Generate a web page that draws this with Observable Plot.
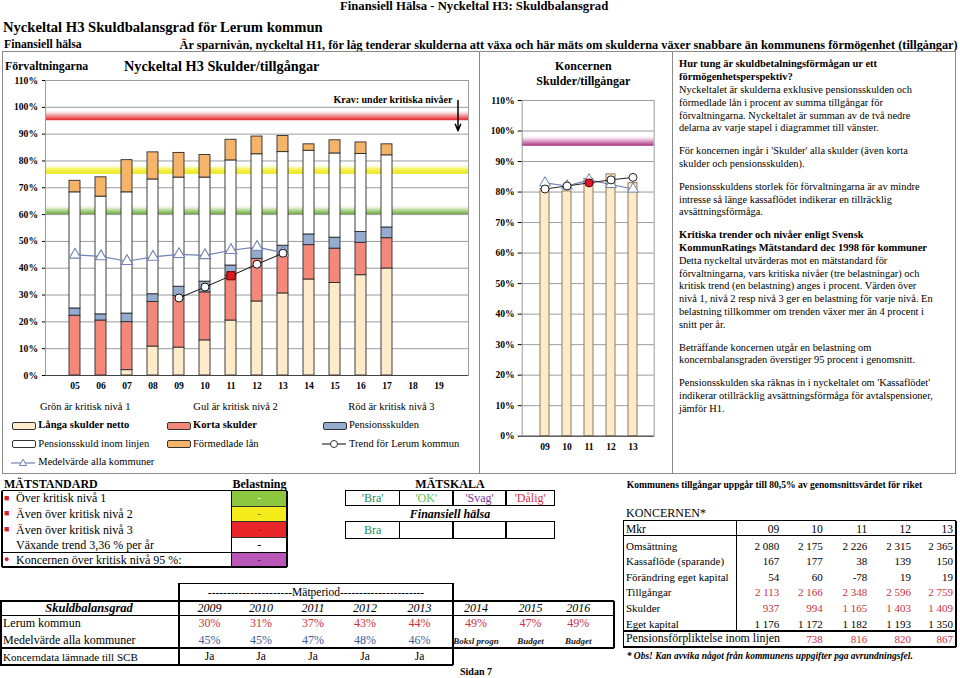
<!DOCTYPE html>
<html lang="sv"><head><meta charset="utf-8">
<script src="https://cdn.jsdelivr.net/npm/d3@7"></script>
<script src="https://cdn.jsdelivr.net/npm/@observablehq/plot@0.6"></script>
<style>
html,body{margin:0;padding:0;background:#fff;}
#page{position:relative;width:960px;height:678px;overflow:hidden;font-family:"Liberation Serif","Times New Roman",serif;color:#000;}
.t{position:absolute;white-space:nowrap;}
.ln{position:absolute;}
.chart{position:absolute;}
.chart svg{overflow:visible;}
</style></head><body><div id="page"></div>
<script>
// ---------------- DATA ----------------
const yearLabels = ["05","06","07","08","09","10","11","12","13","14","15","16","17","18","19"];
const barYears = ["05","06","07","08","09","10","11","12","13","14","15","16","17"];
const langaSkulderNetto = [0, 0, 2.0, 10.8, 10.4, 13.1, 20.5, 27.6, 30.6, 35.8, 34.5, 37.4, 39.9];
const kortaSkulder = [22.3, 20.5, 17.9, 16.6, 19.2, 17.9, 16.7, 15.9, 14.1, 12.8, 12.8, 12.1, 11.3];
const pensionsskulden = [2.7, 2.3, 3.2, 2.9, 3.5, 4.0, 3.8, 3.6, 3.7, 4.0, 4.1, 4.0, 4.0];
const pensionsskuldInomLinjen = [43.3, 43.9, 45.2, 42.8, 40.7, 38.8, 39.2, 35.4, 34.9, 31.2, 31.4, 29.1, 26.9];
const formedladeLan = [4.3, 7.2, 12.0, 10.1, 9.2, 8.4, 7.7, 6.6, 6.0, 2.4, 4.9, 4.3, 4.1];
const seriesNames = ["Långa skulder netto", "Korta skulder", "Pensionsskulden", "Pensionsskuld inom linjen", "Förmedlade lån"];
const seriesColors = ["#fdebc9", "#f4897b", "#95acd0", "#ffffff", "#f6b46a"];

const medelvardeYears = ["05","06","07","08","09","10","11","12","13"];
const medelvardeAllaKommuner = [45.0, 44.4, 42.6, 44.2, 45.2, 44.8, 46.7, 47.9, 45.8];
const trendYears = ["09","10","11","12","13"];
const trendLerum = [28.9, 33.0, 37.2, 41.5, 45.6];
const trendMarkYear = "11";
const kritiskaNivaer = [60, 75, 95];
const yTicks = [0,10,20,30,40,50,60,70,80,90,100,110];
const krav = [{label: "Krav: under kritiska nivåer", from: 102.5, to: 91.3}];

const koncernYears = ["09","10","11","12","13"];
const koncernSkuldTillg = [81.0, 80.2, 84.3, 85.8, 82.9];
const koncernTrend = [81.0, 82.0, 83.0, 84.0, 84.8];
const koncernMedel = [83.0, 82.0, 84.0, 82.5, 81.0];
const koncernKritisk = [95];

const tableYears = ["2009","2010","2011","2012","2013","2014","2015","2016"];
const lerumPct = [30, 31, 37, 43, 44, 49, 47, 49];
const medelPct = [45, 45, 47, 48, 46];
const prognosLabels = ["Boksl progn", "Budget", "Budget"];
const koncerndataSCB = ["Ja","Ja","Ja","Ja","Ja"];

const konYears = ["09","10","11","12","13"];
const omsattning = [2080, 2175, 2226, 2315, 2365];
const kassaflode = [167, 177, 38, 139, 150];
const forandringEK = [54, 60, -78, 19, 19];
const tillgangar = [2113, 2166, 2348, 2596, 2759];
const skulder = [937, 994, 1165, 1403, 1409];
const egetKapital = [1176, 1172, 1182, 1193, 1350];
const pensionInomLinjenKon = [null, 738, 816, 820, 867];

// ---------------- HELPERS ----------------
const page = document.getElementById("page");
function txt(x, y, s, o = {}) {
  const fs = o.fs || 10.5;
  const d = document.createElement("div");
  d.className = "t";
  d.style.fontSize = fs + "px";
  d.style.lineHeight = fs + "px";
  d.style.top = (y - fs / 2) + "px";
  if (o.anchor === "middle") { d.style.left = x + "px"; d.style.transform = "translateX(-50%)"; }
  else if (o.anchor === "end") { d.style.right = (960 - x) + "px"; }
  else d.style.left = x + "px";
  if (o.bold) d.style.fontWeight = "bold";
  if (o.italic) d.style.fontStyle = "italic";
  if (o.color) d.style.color = o.color;
  d.textContent = s;
  page.appendChild(d);
  return d;
}
function hline(x1, x2, y, w = 1, c = "#000") {
  const d = document.createElement("div"); d.className = "ln";
  Object.assign(d.style, {left: x1 + "px", top: (y - w / 2) + "px", width: (x2 - x1) + "px", height: w + "px", background: c});
  page.appendChild(d);
}
function vline(x, y1, y2, w = 1, c = "#000") {
  const d = document.createElement("div"); d.className = "ln";
  Object.assign(d.style, {left: (x - w / 2) + "px", top: y1 + "px", width: w + "px", height: (y2 - y1) + "px", background: c});
  page.appendChild(d);
}
function fillRect(x1, y1, x2, y2, c) {
  const d = document.createElement("div"); d.className = "ln";
  Object.assign(d.style, {left: x1 + "px", top: y1 + "px", width: (x2 - x1) + "px", height: (y2 - y1) + "px", background: c});
  page.appendChild(d);
}
function addGradient(svg, id, stops) {
  let defs = d3.select(svg).select("defs.grad");
  if (defs.empty()) defs = d3.select(svg).insert("defs", ":first-child").attr("class", "grad");
  const g = defs.append("linearGradient").attr("id", id).attr("x1", 0).attr("y1", 0).attr("x2", 0).attr("y2", 1);
  stops.forEach(([o, c, a]) => g.append("stop").attr("offset", o).attr("stop-color", c).attr("stop-opacity", a));
}
function place(el, left, top) {
  const w = document.createElement("div"); w.className = "chart";
  w.style.left = left + "px"; w.style.top = top + "px";
  w.appendChild(el); page.appendChild(w);
}
const fmtNum = n => (n < 0 ? "-" : "") + String(Math.abs(n)).replace(/\B(?=(\d{3})+(?!\d))/g, " ");

// ---------------- HEADINGS ----------------
txt(340, 6.5, "Finansiell Hälsa - Nyckeltal H3: Skuldbalansgrad", {fs: 12.7, bold: true});
txt(3, 27.5, "Nyckeltal H3 Skuldbalansgrad för Lerum kommun", {fs: 14.6, bold: true});
txt(4, 45, "Finansiell hälsa", {fs: 11.7, bold: true});
txt(179.5, 45, "Är sparnivån, nyckeltal H1, för låg tenderar skulderna att växa och här mäts om skulderna växer snabbare än kommunens förmögenhet (tillgångar)", {fs: 12.3, bold: true});

// outer box + dividers
const boxC = "#8a8a8a";
hline(2, 955.5, 51.7, 1, boxC); hline(2, 955.5, 473.3, 1, boxC);
vline(2, 51.7, 473.3, 1, boxC); vline(955.5, 51.7, 473.8, 1, boxC);
vline(479.3, 51.7, 473.3, 1, boxC); vline(672.3, 51.7, 473.3, 1, boxC);

txt(5, 66.5, "Förvaltningarna", {fs: 11.8, bold: true});
txt(124, 66.5, "Nyckeltal H3 Skulder/tillgångar", {fs: 14.3, bold: true});
txt(583.3, 65.7, "Koncernen", {fs: 12, bold: true, anchor: "middle"});
txt(583.3, 80.7, "Skulder/tillgångar", {fs: 12, bold: true, anchor: "middle"});

// ---------------- MAIN CHART ----------------
const barRows = [];
barYears.forEach((yr, i) => {
  [langaSkulderNetto, kortaSkulder, pensionsskulden, pensionsskuldInomLinjen, formedladeLan].forEach((arr, k) => {
    barRows.push({year: yr, part: seriesNames[k], value: arr[i]});
  });
});
const medelRows = medelvardeYears.map((y, i) => ({year: y, value: medelvardeAllaKommuner[i]}));
const trendRows = trendYears.map((y, i) => ({year: y, value: trendLerum[i]}));
const gridC = "#9c9c9c";
const chartStyle = {fontFamily: "'Liberation Serif', serif", fontSize: "9.6px", fontWeight: "bold", color: "#000", background: "transparent", overflow: "visible"};
const mvColor = "#6f82b3";

const mainChart = Plot.plot({
  width: 478, height: 345,
  marginLeft: 45, marginRight: 10, marginTop: 28, marginBottom: 22,
  style: chartStyle,
  x: {type: "band", domain: yearLabels, paddingInner: 0.58, paddingOuter: 0.29, insetLeft: 14, insetRight: 14, label: null},
  y: {domain: [0, 110], label: null},
  color: {domain: seriesNames, range: seriesColors},
  marks: [
    ...kritiskaNivaer.map((v, i) => Plot.rect([v], {y1: d => d, y2: d => d + (i === 2 ? 4 : 3.6), fill: `url(#gMain${i})`})),
    Plot.gridY(yTicks, {stroke: gridC, strokeOpacity: 1}),
    Plot.frame({stroke: gridC}),
    Plot.barY(barRows, {x: "year", y: "value", fill: "part", stroke: "#2b2b2b", strokeWidth: 0.9}),
    Plot.line(medelRows, {x: "year", y: "value", stroke: mvColor, strokeWidth: 1.2}),
    Plot.dot(medelRows, {x: "year", y: "value", symbol: "triangle", r: 4.2, fill: "white", stroke: mvColor, strokeWidth: 1.1}),
    Plot.line(trendRows, {x: "year", y: "value", stroke: "#111", strokeWidth: 1}),
    Plot.dot(trendRows.filter(d => d.year !== trendMarkYear), {x: "year", y: "value", r: 4, fill: "white", stroke: "#111", strokeWidth: 1}),
    Plot.dot(trendRows.filter(d => d.year === trendMarkYear), {x: "year", y: "value", symbol: "square", r: 4.6, fill: "#e01b1b", stroke: "#6b0000", strokeWidth: 1}),
    Plot.ruleY([0], {stroke: "#444"}),
    Plot.axisY(yTicks, {tickFormat: d => d + "%", tickSize: 3, tickPadding: 4.5, label: null}),
    Plot.axisX({tickSize: 0, tickPadding: 7, label: null}),
    Plot.arrow(krav, {x1: d => "19", x2: d => "19", y1: "from", y2: "to", dx: 19, stroke: "#000", strokeWidth: 1.5, headLength: 7, headAngle: 45}),
    Plot.text(krav, {text: "label", frameAnchor: "top-right", textAnchor: "end", dx: -16, dy: 15, fontSize: 10, fontWeight: "bold"})
  ]
});
addGradient(mainChart, "gMain0", [[0, "#ffffff", 0], [0.4, "#d8ecc4", 1], [1, "#6cab3b", 1]]);
addGradient(mainChart, "gMain1", [[0, "#ffffff", 0], [0.45, "#f7f46a", 1], [1, "#ebe617", 1]]);
addGradient(mainChart, "gMain2", [[0, "#ffffff", 0], [0.4, "#f8c2c2", 1], [1, "#e22228", 1]]);
place(mainChart, 0, 52);

// ---------------- LEGEND ----------------
txt(40, 407.7, "Grön är kritisk nivå 1", {fs: 10.5});
txt(193.3, 407.7, "Gul är kritisk nivå 2", {fs: 10.5});
txt(348.3, 407.7, "Röd är kritisk nivå 3", {fs: 10.5});
function swatch(x, y, fill) {
  const d = document.createElement("div"); d.className = "ln";
  Object.assign(d.style, {left: x + "px", top: (y - 4) + "px", width: "22px", height: "6px", background: fill, border: "1px solid #333", borderRadius: "2px"});
  page.appendChild(d);
}
function lineIcon(x, y, color, sym) {
  const ns = "http://www.w3.org/2000/svg";
  const s = document.createElementNS(ns, "svg");
  s.setAttribute("width", 26); s.setAttribute("height", 12);
  s.style.position = "absolute"; s.style.left = x + "px"; s.style.top = (y - 6) + "px";
  s.innerHTML = `<line x1="0" y1="6" x2="24" y2="6" stroke="${color}" stroke-width="1.2"/>` +
    (sym === "circle" ? `<circle cx="12" cy="6" r="3.5" fill="white" stroke="${color}"/>` :
      `<path d="M12,2.2 L15.6,8.6 L8.4,8.6 Z" fill="white" stroke="${color}"/>`);
  page.appendChild(s);
}
swatch(11.7, 425.7, seriesColors[0]); txt(38.3, 425.7, seriesNames[0], {fs: 10.6, bold: true});
swatch(166.7, 425.7, seriesColors[1]); txt(193, 425.7, seriesNames[1], {fs: 10.6, bold: true});
swatch(322.7, 425.7, seriesColors[2]); txt(349, 425.7, seriesNames[2], {fs: 10.5});
swatch(11.7, 444, seriesColors[3]); txt(38.3, 444, seriesNames[3], {fs: 10.5});
swatch(166.7, 444, seriesColors[4]); txt(193, 444, seriesNames[4], {fs: 10.5});
lineIcon(322, 444, "#333", "circle"); txt(349, 444, "Trend för Lerum kommun", {fs: 10.5});
lineIcon(11, 462.7, mvColor, "triangle"); txt(38.3, 462.7, "Medelvärde alla kommuner", {fs: 10.5});

// ---------------- KONCERNEN CHART ----------------
const kRows = koncernYears.map((y, i) => ({year: y, value: koncernSkuldTillg[i]}));
const kMedelRows = koncernYears.map((y, i) => ({year: y, value: koncernMedel[i]}));
const kTrendRows = koncernYears.map((y, i) => ({year: y, value: koncernTrend[i]}));
const kChart = Plot.plot({
  width: 192, height: 406,
  marginLeft: 41.7, marginRight: 18.3, marginTop: 48, marginBottom: 22.3,
  style: chartStyle,
  x: {type: "band", domain: koncernYears, paddingInner: 0.6, paddingOuter: 0.3, insetLeft: 11.5, insetRight: 9.5, label: null},
  y: {domain: [0, 110], label: null},
  marks: [
    Plot.rect(koncernKritisk, {y1: d => d, y2: d => d + 3.6, fill: "url(#gKon)"}),
    Plot.gridY(yTicks, {stroke: gridC, strokeOpacity: 1}),
    Plot.frame({stroke: gridC}),
    Plot.barY(kRows, {x: "year", y: "value", fill: seriesColors[0], stroke: "#8b7b5c", strokeWidth: 1}),
    Plot.line(kMedelRows, {x: "year", y: "value", stroke: mvColor, strokeWidth: 1.1}),
    Plot.dot(kMedelRows, {x: "year", y: "value", symbol: "triangle", r: 4, fill: "white", stroke: mvColor, strokeWidth: 1}),
    Plot.line(kTrendRows, {x: "year", y: "value", stroke: "#222", strokeWidth: 1}),
    Plot.dot(kTrendRows.filter(d => d.year !== trendMarkYear), {x: "year", y: "value", r: 4, fill: "white", stroke: "#222", strokeWidth: 1}),
    Plot.dot(kTrendRows.filter(d => d.year === trendMarkYear), {x: "year", y: "value", r: 4, fill: "#e0162b", stroke: "#6b0000", strokeWidth: 1}),
    Plot.ruleY([0], {stroke: "#444"}),
    Plot.axisY(yTicks, {tickFormat: d => d + "%", tickSize: 4, tickPadding: 3.5, label: null}),
    Plot.axisX({tickSize: 0, tickPadding: 7, label: null})
  ]
});
addGradient(kChart, "gKon", [[0, "#ffffff", 0], [0.45, "#e9bcd8", 1], [1, "#a4307c", 1]]);
place(kChart, 480, 52);

// ---------------- RIGHT TEXT ----------------
const paras = [
  {bold: ["Hur tung är skuldbetalningsförmågan ur ett", "förmögenhetsperspektiv?"],
   reg: ["Nyckeltalet är skulderna exklusive pensionsskulden och", "förmedlade lån i procent av summa tillgångar för", "förvaltningarna. Nyckeltalet är summan av de två nedre", "delarna av varje stapel i diagrammet till vänster."]},
  {bold: [], reg: ["För koncernen ingår i 'Skulder' alla skulder (även korta", "skulder och pensionsskulden)."]},
  {bold: [], reg: ["Pensionsskuldens storlek för förvaltningarna är av mindre", "intresse så länge kassaflödet indikerar en tillräcklig", "avsättningsförmåga."]},
  {bold: ["Kritiska trender och nivåer enligt Svensk", "KommunRatings Mätstandard dec 1998 för kommuner"],
   reg: ["Detta nyckeltal utvärderas mot en mätstandard för", "förvaltningarna, vars kritiska nivåer (tre belastningar) och", "kritisk trend (en belastning) anges i procent. Värden över", "nivå 1, nivå 2 resp nivå 3 ger en belastning för varje nivå. En", "belastning tillkommer om trenden växer mer än 4 procent i", "snitt per år."]},
  {bold: [], reg: ["Beträffande koncernen utgår en belastning om", "koncernbalansgraden överstiger 95 procent i genomsnitt."]},
  {bold: [], reg: ["Pensionsskulden ska räknas in i nyckeltalet om 'Kassaflödet'", "indikerar otillräcklig avsättningsförmåga för avtalspensioner,", "jämför H1."]}
];
let ty = 64.5;
paras.forEach((p, pi) => {
  if (pi > 0) ty += 10;
  p.bold.forEach(l => { txt(679, ty, l, {fs: 10.5, bold: true}); ty += 12.8; });
  p.reg.forEach(l => { txt(679, ty, l, {fs: 10.4}); ty += 12.8; });
});

// ---------------- MÄTSTANDARD ----------------
txt(4, 483.5, "MÄTSTANDARD", {fs: 12, bold: true});
txt(259.5, 483.5, "Belastning", {fs: 12, bold: true, anchor: "middle"});
const mRows = [["Över kritisk nivå 1", "sq"], ["Även över kritisk nivå 2", "sq"], ["Även över kritisk nivå 3", "sq"], ["Växande trend 3,36 % per år", ""], ["Koncernen över kritisk nivå 95 %:", "dot"]];
const mFill = ["#8dc63f", "#f5ec1b", "#e9272a", "#ffffff", "#b957b9"];
const mDash = ["#eef6e0", "#8a8a30", "#c01010", "#000", "#6a1a6a"];
const mY = [490.7, 506, 521.7, 537.7, 552.7, 567];
mRows.forEach((r, i) => {
  const yc = (mY[i] + mY[i + 1]) / 2;
  fillRect(231.7, mY[i], 287, mY[i + 1], mFill[i]);
  txt(259.3, yc, "-", {fs: 12, anchor: "middle", color: mDash[i]});
  if (r[1] === "sq") txt(4, yc, "■", {fs: 9, color: "#d21f33"});
  if (r[1] === "dot") txt(4, yc, "●", {fs: 9, color: "#d21f33"});
  txt(16, yc, r[0], {fs: 12});
  if (i > 0 && i < 4) hline(231.7, 287, mY[i], 0.8, "#333");
});
hline(2, 287, mY[0], 1.5); hline(2, 287, mY[4], 1.5); hline(2, 287, mY[5], 1.5);
vline(2, mY[0], mY[5], 1.5); vline(231.7, mY[0], mY[5], 1.2); vline(287, mY[0], mY[5], 1.5);

// MÄTSKALA
txt(450, 483.5, "MÄTSKALA", {fs: 12, bold: true, anchor: "middle"});
const skalaLabels = ["'Bra'", "'OK'", "'Svag'", "'Dålig'"];
const skalaColors = ["#1f8a5a", "#5cbf5c", "#7a3a9a", "#df3048"];
const skalaX = [345.8, 399.4, 453.1, 506, 554.4];
[[490.7, 505.3], [521.7, 538.3]].forEach(([a, b]) => {
  hline(skalaX[0], skalaX[4], a, 1.3); hline(skalaX[0], skalaX[4], b, 1.3);
  skalaX.forEach(x => vline(x, a - 0.6, b + 0.6, 1.3));
});
skalaLabels.forEach((s, i) => txt((skalaX[i] + skalaX[i + 1]) / 2, 498, s, {fs: 12, anchor: "middle", color: skalaColors[i]}));
txt(450, 514, "Finansiell hälsa", {fs: 12, bold: true, italic: true, anchor: "middle"});
txt((skalaX[0] + skalaX[1]) / 2, 530, "Bra", {fs: 12, anchor: "middle", color: skalaColors[0]});

// ---------------- SKULDBALANSGRAD TABLE ----------------
const colC = [209.5, 261, 313, 365, 419.5, 476, 530.6, 578.3];
hline(179, 453, 583.3, 1.5); vline(179, 583.3, 665, 1.5); vline(453, 583.3, 665, 1.5);
txt(316, 592.5, "----------------------Mätperiod----------------------", {fs: 11.5, anchor: "middle"});
hline(0, 614, 600.7, 2); hline(0, 614, 615.2, 1); hline(0, 614, 648.3, 2); hline(0, 453, 665, 1.5);
vline(1, 600.7, 665, 1.5); vline(614, 600.7, 648.3, 2);
txt(89, 607.8, "Skuldbalansgrad", {fs: 12.5, bold: true, italic: true, anchor: "middle"});
tableYears.forEach((y, i) => txt(colC[i], 607.8, y, {fs: 12, italic: true, anchor: "middle"}));
txt(3, 623.3, "Lerum kommun", {fs: 12});
lerumPct.forEach((v, i) => txt(colC[i], 623.3, v + "%", {fs: 12, anchor: "middle", color: "#d0303e"}));
txt(3, 640, "Medelvärde alla kommuner", {fs: 12});
medelPct.forEach((v, i) => txt(colC[i], 640, v + "%", {fs: 12, anchor: "middle", color: "#3f5d99"}));
prognosLabels.forEach((s, i) => txt(colC[5 + i], 641, s, {fs: 9, bold: true, italic: true, anchor: "middle", color: "#222"}));
txt(3, 657, "Koncerndata lämnade till SCB", {fs: 11});
koncerndataSCB.forEach((s, i) => txt(colC[i], 657, s, {fs: 11.5, anchor: "middle"}));
txt(476, 672, "Sidan 7", {fs: 10, bold: true, anchor: "middle"});

// ---------------- KONCERNEN TABLE ----------------
txt(626.7, 485, "Kommunens tillgångar uppgår till 80,5% av genomsnittsvärdet för riket", {fs: 9.6, bold: true});
txt(626, 512.5, "KONCERNEN*", {fs: 12});
const konRows = [["Omsättning", omsattning, false], ["Kassaflöde (sparande)", kassaflode, false], ["Förändring eget kapital", forandringEK, false], ["Tillgångar", tillgangar, true], ["Skulder", skulder, true], ["Eget kapital", egetKapital, false]];
const konX = [779.3, 822.7, 867.3, 911, 953];
const redT = "#c8323c";
hline(623.3, 956, 520.7, 1.6); hline(623.3, 956, 535.5, 1.2); hline(623.3, 956, 630.8, 1.6); hline(623.3, 956, 647, 1.6);
vline(623.3, 520.7, 647, 1.6); vline(956, 520.7, 647, 1.6); vline(736.7, 520.7, 630.8, 1.2);
txt(626, 529.3, "Mkr", {fs: 11.5});
konYears.forEach((y, i) => txt(konX[i], 529.3, y, {fs: 11.5, anchor: "end"}));
konRows.forEach((r, j) => {
  const yc = 546 + j * 15.6;
  txt(626, yc, r[0], {fs: 11});
  r[1].forEach((v, i) => txt(konX[i], yc, fmtNum(v), {fs: 11, anchor: "end", color: r[2] ? redT : "#000"}));
});
txt(626, 639.2, "Pensionsförpliktelse inom linjen", {fs: 11.9});
pensionInomLinjenKon.forEach((v, i) => { if (v != null) txt(konX[i], 639.2, fmtNum(v), {fs: 11, anchor: "end", color: redT}); });
txt(626.7, 657, "* Obs! Kan avvika något från kommunens uppgifter pga avrundningsfel.", {fs: 9.5, bold: true, italic: true});
</script></body></html>
